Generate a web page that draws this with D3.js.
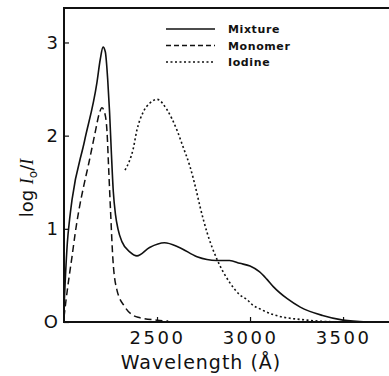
<!DOCTYPE html>
<html>
<head>
<meta charset="utf-8">
<script src="https://cdn.jsdelivr.net/npm/d3@7"></script>
<style>
  body { margin: 0; background: #fff; }
  text { font-family: "DejaVu Sans", sans-serif; fill: #111; }
</style>
</head>
<body>
<svg id="chart" width="389" height="376"></svg>
<script>
// values (wavelength in A, log I0/I)
var mixtureWl  = [2000, 2008, 2018, 2030, 2043, 2110, 2177, 2195, 2210, 2222, 2235, 2245, 2255, 2265, 2277, 2290, 2312, 2355, 2392, 2460, 2540, 2620, 2715, 2820, 2890, 2945, 3000, 3050, 3090, 3125, 3200, 3270, 3390, 3500, 3630];
var mixtureLog = [0.15, 0.5, 0.85, 1.1, 1.31, 1.94, 2.57, 2.82, 2.95, 2.9, 2.6, 2.25, 1.8, 1.4, 1.15, 1.0, 0.86, 0.75, 0.71, 0.8, 0.85, 0.8, 0.7, 0.66, 0.66, 0.63, 0.6, 0.54, 0.46, 0.38, 0.25, 0.16, 0.07, 0.02, 0.0];

var monomerWl  = [2000, 2010, 2025, 2043, 2060, 2080, 2105, 2135, 2167, 2190, 2204, 2218, 2231, 2240, 2250, 2263, 2285, 2328, 2398, 2500, 2560];
var monomerLog = [0.05, 0.22, 0.45, 0.7, 0.95, 1.2, 1.45, 1.72, 2.03, 2.24, 2.3, 2.25, 2.05, 1.65, 1.2, 0.67, 0.34, 0.16, 0.05, 0.02, 0.01];

var iodineWl  = [2328, 2350, 2371, 2392, 2425, 2462, 2500, 2553, 2607, 2640, 2677, 2710, 2731, 2769, 2823, 2892, 2946, 2984, 3016, 3054, 3124, 3306, 3484];
var iodineLog = [1.63, 1.72, 1.85, 2.06, 2.25, 2.35, 2.39, 2.28, 2.06, 1.88, 1.67, 1.42, 1.24, 0.96, 0.67, 0.42, 0.29, 0.24, 0.18, 0.14, 0.08, 0.02, 0.0];

var xTicks = [2500, 3000, 3500];
var yTicks = [0, 1, 2, 3];
var yTickLabels = ["O", "1", "2", "3"];
var seriesNames = ["Mixture", "Monomer", "Iodine"];

var svg = d3.select("#chart");

var x = d3.scaleLinear().domain([2000, 3747]).range([64, 389]);
var y = d3.scaleLinear().domain([0, 3.37]).range([322, 8]);

// frame: left, bottom, top
svg.append("path")
  .attr("d", "M389," + y(3.37) + "H" + x(2000) + "V" + y(0) + "H389")
  .attr("fill", "none")
  .attr("stroke", "#111")
  .attr("stroke-width", 2);

// axes with short inward ticks
var xAxis = svg.append("g")
  .attr("transform", "translate(0," + y(0) + ")")
  .call(d3.axisBottom(x).tickValues(xTicks).tickSize(-5).tickPadding(9).tickFormat(d3.format("d")));
xAxis.select(".domain").remove();
xAxis.selectAll("text").attr("font-size", 18).attr("letter-spacing", 2.5).attr("fill", "#111");
xAxis.selectAll("line").attr("stroke", "#111").attr("stroke-width", 1.2);

var yAxis = svg.append("g")
  .attr("transform", "translate(" + x(2000) + ",0)")
  .call(d3.axisLeft(y).tickValues(yTicks).tickSize(-5).tickPadding(6).tickFormat(function(d, i) { return yTickLabels[i]; }));
yAxis.select(".domain").remove();
yAxis.selectAll("text").attr("font-size", 18).attr("fill", "#111");
yAxis.selectAll("line").attr("stroke", "#111").attr("stroke-width", 1.2);

// curves
var line = d3.line()
  .x(function(d) { return x(d[0]); })
  .y(function(d) { return y(d[1]); })
  .curve(d3.curveMonotoneX);

var series = [
  { wl: mixtureWl, v: mixtureLog, dash: null, w: 1.6 },
  { wl: monomerWl, v: monomerLog, dash: "7,4", w: 1.5 },
  { wl: iodineWl, v: iodineLog, dash: "2,2.5", w: 1.6 }
];

series.forEach(function(s) {
  svg.append("path")
    .datum(d3.zip(s.wl, s.v))
    .attr("d", line)
    .attr("fill", "none")
    .attr("stroke", "#111")
    .attr("stroke-width", s.w)
    .attr("stroke-dasharray", s.dash);
});

// legend
var legend = svg.append("g").attr("transform", "translate(166,29)");
seriesNames.forEach(function(name, i) {
  legend.append("line")
    .attr("x1", 0).attr("x2", 49)
    .attr("y1", i * 16.5).attr("y2", i * 16.5)
    .attr("stroke", "#111")
    .attr("stroke-width", 1.4)
    .attr("stroke-dasharray", i == 1 ? "5,3" : series[i].dash);
  legend.append("text")
    .attr("x", 62).attr("y", i * 16.5 + 4)
    .attr("font-size", 11)
    .attr("font-weight", "bold")
    .attr("letter-spacing", 0.6)
    .text(name);
});

// axis titles
svg.append("text")
  .attr("x", 201).attr("y", 369)
  .attr("text-anchor", "middle")
  .attr("font-size", 19)
  .attr("letter-spacing", 1)
  .text("Wavelength  (Å)");

var yt = svg.append("text")
  .attr("transform", "translate(33,188) rotate(-90)")
  .attr("text-anchor", "middle")
  .attr("font-size", 18);
yt.append("tspan").text("log ");
yt.append("tspan").attr("font-style", "italic").attr("font-family", "Liberation Serif, serif").text("I");
yt.append("tspan").attr("font-size", 12).attr("dy", 4).text("o");
yt.append("tspan").attr("dy", -4).text("/");
yt.append("tspan").attr("font-style", "italic").attr("font-family", "Liberation Serif, serif").text("I");
</script>
</body>
</html>
